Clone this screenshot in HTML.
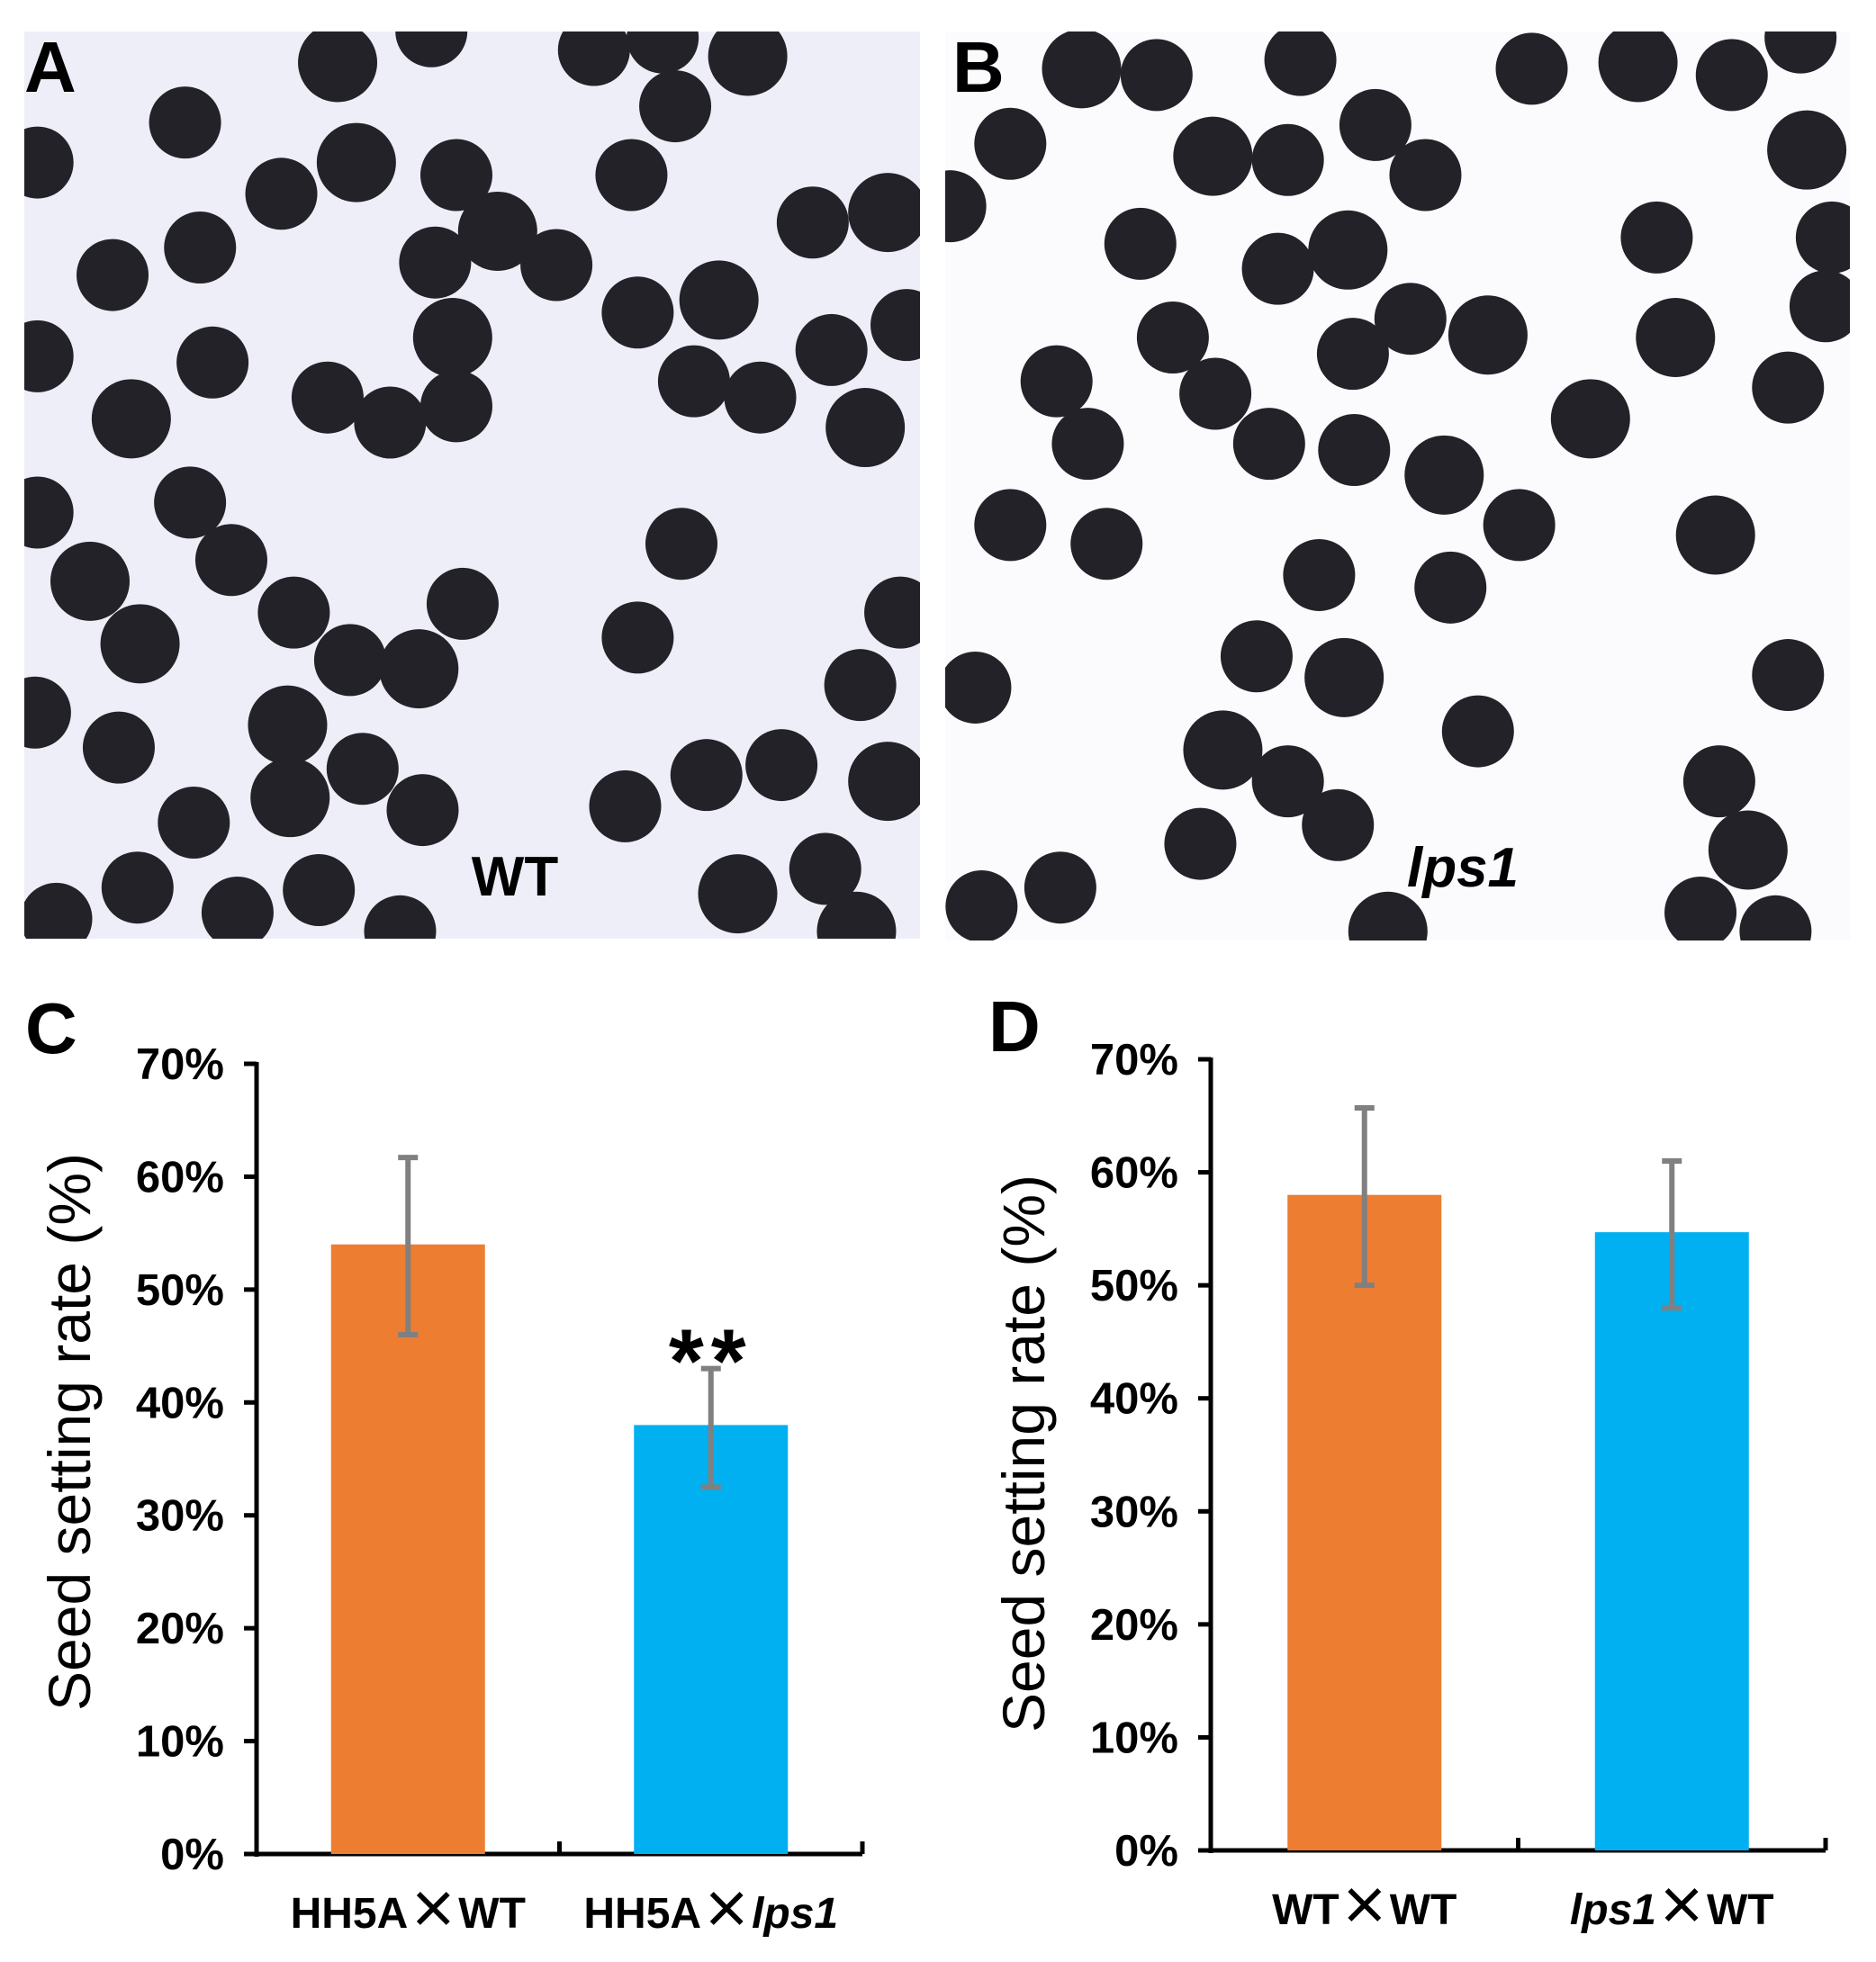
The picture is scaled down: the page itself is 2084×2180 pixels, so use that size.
<!DOCTYPE html>
<html><head><meta charset="utf-8"><style>
body{margin:0;background:#fff;}
svg{display:block;font-family:"Liberation Sans",Arial,sans-serif;}
</style></head><body>
<svg id="fig" width="2084" height="2180" viewBox="0 0 2084 2180" xmlns="http://www.w3.org/2000/svg">
<defs>
<clipPath id="clipA"><rect x="27" y="35" width="995" height="1008"/></clipPath>
<clipPath id="clipB"><rect x="1050" y="35" width="1005" height="1010"/></clipPath>
</defs>
<g>
<rect x="27" y="35" width="995" height="1008" fill="#eeeef8"/>
<g id="seedsA" clip-path="url(#clipA)"></g>
<text x="572" y="995" font-size="62" font-weight="bold" text-anchor="middle">WT</text>
</g>
<g>
<rect x="1050" y="35" width="1005" height="1010" fill="#fbfbfe"/>
<g id="seedsB" clip-path="url(#clipB)"></g>
<text x="1625" y="985" font-size="62" font-weight="bold" font-style="italic" text-anchor="middle">lps1</text>
</g>
<text x="27" y="102" font-size="80" font-weight="bold">A</text>
<text x="1058" y="102" font-size="80" font-weight="bold">B</text>
<text x="28" y="1170" font-size="80" font-weight="bold">C</text>
<text x="1098" y="1168" font-size="80" font-weight="bold">D</text>
<g id="chartC"></g>
<g id="chartD"></g>
</svg>
<script>
const NS="http://www.w3.org/2000/svg";
const S=1.389;
const seedsAx=[270,345,475,530,598,148,540,30,285,225,365,505,710,650,90,160,398,348,445,510,575,725,30,170,362,665,555,608,105,262,312,365,692,152,185,30,72,545,370,235,112,510,720,280,335,688,28,95,230,290,565,625,232,155,338,500,710,110,190,255,590,660,45,320,685];
const seedsAy=[50,25,40,30,45,98,85,130,130,155,140,140,170,178,220,198,185,210,212,250,240,260,285,290,270,280,305,318,335,318,338,325,342,402,448,410,465,435,483,490,515,510,490,528,535,548,570,598,580,615,620,612,638,658,648,645,625,710,730,712,715,695,735,745,745];
const seedsBx=[865,925,1040,1225,1310,1385,1440,808,970,1030,1100,1140,1445,760,912,1022,1078,1325,1465,1460,1340,938,1082,1128,1190,1430,845,972,1272,870,1015,1083,1155,1215,808,885,1372,1055,1160,1005,1075,1182,1430,780,978,1030,1375,1070,1398,960,785,848,1110,1360,1420];
const seedsBy=[55,60,48,55,50,60,30,115,125,128,100,140,120,165,195,215,200,190,190,245,270,270,283,255,268,310,305,315,335,355,355,360,380,420,420,435,428,460,470,525,542,585,540,550,600,625,625,660,680,675,725,710,745,730,745];
function seeds(id,xs,ys){const g=document.getElementById(id);
for(let i=0;i<xs.length;i++){const c=document.createElementNS(NS,'circle');
c.setAttribute('cx',xs[i]*S);c.setAttribute('cy',ys[i]*S);c.setAttribute('r',i%4==0?44:40);c.setAttribute('fill','#232228');


g.appendChild(c);}}
seeds('seedsA',seedsAx,seedsAy);seeds('seedsB',seedsBx,seedsBy);

const ticks=['0%','10%','20%','30%','40%','50%','60%','70%'];
const catsC=['HH5A×WT','HH5A×lps1'];
const valsC=[54,38];
const errLoC=[46,32.5];
const errHiC=[61.7,43];
const catsD=['WT×WT','lps1×WT'];
const valsD=[58,54.7];
const errLoD=[50,48];
const errHiD=[65.7,61];
const colors=['#ed7d31','#00b0f0'];

function el(p,tag,attrs,name,text){const e=document.createElementNS(NS,tag);for(const k in attrs)e.setAttribute(k,attrs[k]);


if(text!==undefined)e.textContent=text;p.appendChild(e);return e;}

function chart(id,cfg,cats,vals,lo,hi,star){
const g=document.getElementById(id);
const y=v=>cfg.y0-(v/70)*(cfg.y0-cfg.y70);
const bw=cfg.bw;
const slot=(cfg.xEnd-cfg.ax)/cats.length;
el(g,'line',{x1:cfg.ax,y1:cfg.y70-2,x2:cfg.ax,y2:cfg.y0+3,stroke:'#000','stroke-width':5},'y-axis-line');
el(g,'line',{x1:cfg.ax-3,y1:cfg.y0,x2:cfg.xEnd,y2:cfg.y0,stroke:'#000','stroke-width':5},'x-axis-line');
ticks.forEach((t,i)=>{const v=i*10;
el(g,'line',{x1:cfg.ax-14,y1:y(v),x2:cfg.ax,y2:y(v),stroke:'#000','stroke-width':5},'y-tick');
el(g,'text',{x:cfg.ax-36,y:y(v)+17,'font-size':49,'font-weight':'bold','text-anchor':'end'},'y-tick-label',t);});
for(let i=1;i<=cats.length;i++){const xx=cfg.ax+slot*i;
el(g,'line',{x1:xx,y1:cfg.y0,x2:xx,y2:cfg.y0-14,stroke:'#000','stroke-width':5},'x-tick');}
cats.forEach((c,i)=>{const cx=cfg.ax+slot*(i+0.5);
el(g,'rect',{x:cx-bw/2,y:y(vals[i]),width:bw,height:y(0)-y(vals[i]),fill:colors[i]},'bar-'+i);
el(g,'line',{x1:cx,y1:y(lo[i]),x2:cx,y2:y(hi[i]),stroke:'#808080','stroke-width':6},'error-bar');
el(g,'line',{x1:cx-11,y1:y(lo[i]),x2:cx+11,y2:y(lo[i]),stroke:'#808080','stroke-width':6},'error-cap-low');
el(g,'line',{x1:cx-11,y1:y(hi[i]),x2:cx+11,y2:y(hi[i]),stroke:'#808080','stroke-width':6},'error-cap-high');
const t=el(g,'text',{x:cx,y:cfg.y0+82,'font-size':48,'font-weight':'bold','text-anchor':'middle'},'x-tick-label');
c.split(/(lps1|×)/).forEach(part=>{if(!part)return;const ts=document.createElementNS(NS,'tspan');ts.textContent=part;
if(part==='lps1')ts.setAttribute('font-style','italic');
if(part==='×'){ts.setAttribute('font-family','"Noto Sans CJK SC",sans-serif');ts.setAttribute('font-size','56');ts.setAttribute('font-weight','bold');}
t.appendChild(ts);});
if(star&&i===1){el(g,'text',{x:cx,y:y(hi[i])+26,'font-size':100,'font-weight':'bold','text-anchor':'middle','letter-spacing':'8'},'significance-mark','**');}
});
el(g,'text',{x:0,y:0,'font-size':66,'text-anchor':'middle',transform:`translate(${cfg.tx},${cfg.ty}) rotate(-90)`},'y-axis-title','Seed setting rate (%)');
}
chart('chartC',{ax:285,y70:1182,y0:2060,xEnd:958,bw:171,tx:100,ty:1591},catsC,valsC,errLoC,errHiC,true);
chart('chartD',{ax:1345,y70:1177,y0:2056,xEnd:2028,bw:171,tx:1160,ty:1615},catsD,valsD,errLoD,errHiD,false);
</script>
</body></html>
